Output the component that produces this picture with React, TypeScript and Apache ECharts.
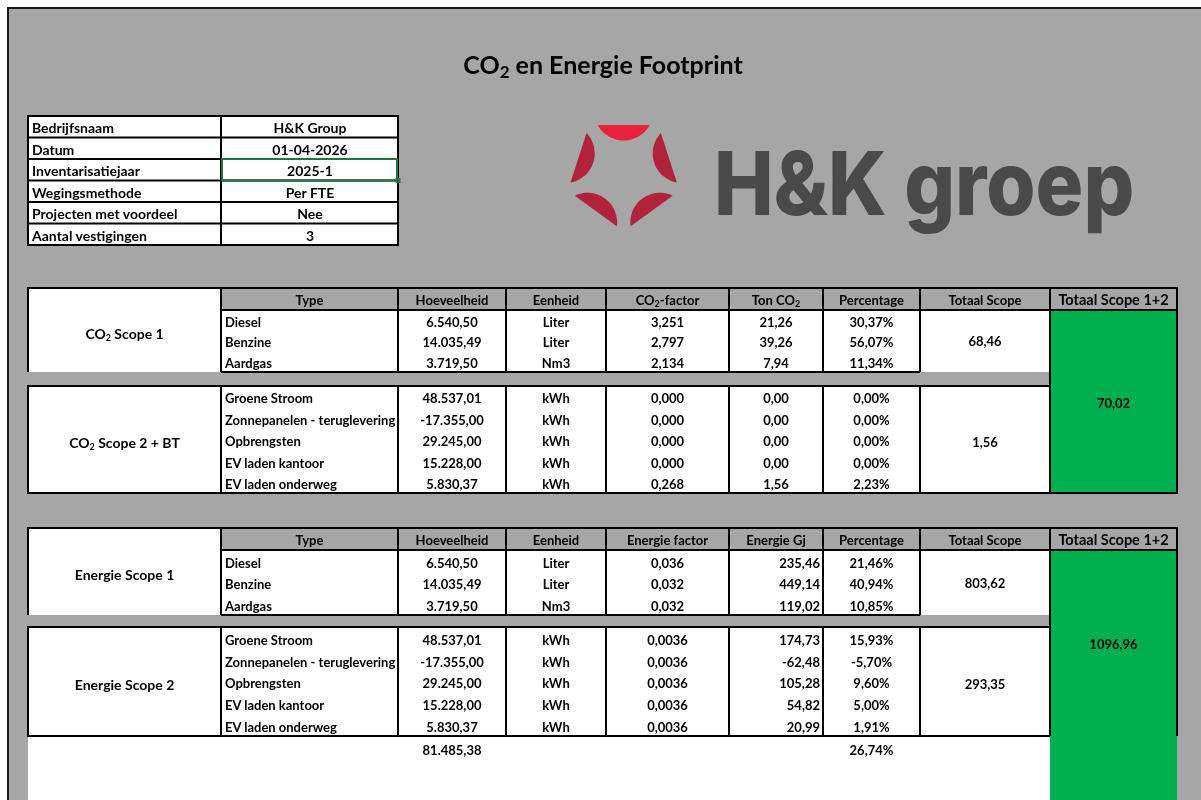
import React, { useEffect, useRef } from "react";
import * as echarts from "echarts";

const FONT = 'Lato, "Noto Sans", sans-serif';

// ---------- data ----------
const titleText = "CO₂ en Energie Footprint";
const logoText = "H&K groep";

const infoLabels = ["Bedrijfsnaam", "Datum", "Inventarisatiejaar", "Wegingsmethode", "Projecten met voordeel", "Aantal vestigingen"];
const infoValues = ["H&K Group", "01-04-2026", "2025-1", "Per FTE", "Nee", "3"];

const co2Headers = ["Type", "Hoeveelheid", "Eenheid", "CO₂-factor", "Ton CO₂", "Percentage", "Totaal Scope", "Totaal Scope 1+2"];
const energyHeaders = ["Type", "Hoeveelheid", "Eenheid", "Energie factor", "Energie Gj", "Percentage", "Totaal Scope", "Totaal Scope 1+2"];

const co2BlockLabels = ["CO₂ Scope 1", "CO₂ Scope 2 + BT"];
const energyBlockLabels = ["Energie Scope 1", "Energie Scope 2"];

const scope1Types = ["Diesel", "Benzine", "Aardgas"];
const scope2Types = ["Groene Stroom", "Zonnepanelen - teruglevering", "Opbrengsten", "EV laden kantoor", "EV laden onderweg"];
const scope1Qty = [6540.5, 14035.49, 3719.5];
const scope2Qty = [48537.01, -17355.0, 29245.0, 15228.0, 5830.37];
const scope1Units = ["Liter", "Liter", "Nm3"];
const scope2Units = ["kWh", "kWh", "kWh", "kWh", "kWh"];

const co2Scope1Factor = [3.251, 2.797, 2.134];
const co2Scope2Factor = [0.0, 0.0, 0.0, 0.0, 0.268];
const co2Scope1Ton = [21.26, 39.26, 7.94];
const co2Scope2Ton = [0.0, 0.0, 0.0, 0.0, 1.56];
const co2Scope1Pct = [30.37, 56.07, 11.34];
const co2Scope2Pct = [0.0, 0.0, 0.0, 0.0, 2.23];
const co2ScopeTotals = [68.46, 1.56];
const co2GrandTotal = 70.02;

const energyScope1Factor = [0.036, 0.032, 0.032];
const energyScope2Factor = [0.0036, 0.0036, 0.0036, 0.0036, 0.0036];
const energyScope1Gj = [235.46, 449.14, 119.02];
const energyScope2Gj = [174.73, -62.48, 105.28, 54.82, 20.99];
const energyScope1Pct = [21.46, 40.94, 10.85];
const energyScope2Pct = [15.93, -5.7, 9.6, 5.0, 1.91];
const energyScopeTotals = [803.62, 293.35];
const energyGrandTotal = 1096.96;

const footerQty = 81485.38;
const footerPct = 26.74;

// ---------- helpers ----------
function nl(v: number, d: number, group = true): string {
  const s = Math.abs(v).toFixed(d);
  let [i, f] = s.split(".");
  if (group) i = i.replace(/\B(?=(\d{3})+(?!\d))/g, ".");
  return (v < 0 ? "-" : "") + i + (f ? "," + f : "");
}
const pct = (v: number) => nl(v, 2) + "%";

function T(x: number, y: number, text: string, o: any = {}): any {
  const size = o.size ?? 13;
  const fill = o.fill ?? "#000";
  const style: any = {
    fontSize: size,
    fontWeight: o.weight ?? "bold",
    fontFamily: o.family ?? FONT,
    fill,
    align: o.align ?? "center",
    verticalAlign: o.v ?? "middle",
  };
  if (text.indexOf("₂") >= 0) {
    const parts = text.split("₂");
    style.text = parts.map((p) => (p ? `{n|${p}}` : "")).join("{s|2}");
    style.rich = {
      n: { fontSize: size, fontWeight: "bold", fontFamily: FONT, fill },
      s: {
        fontSize: Math.round(size * 0.66),
        fontWeight: "bold",
        fontFamily: FONT,
        fill,
        padding: [Math.round(size * 0.55), 0, 0, 0],
      },
    };
  } else {
    style.text = text;
  }
  return { type: "text", x, y, silent: true, style };
}

function L(x1: number, y1: number, x2: number, y2: number, w = 2, stroke = "#000"): any {
  return { type: "line", silent: true, shape: { x1, y1, x2, y2 }, style: { stroke, lineWidth: w } };
}
function R(x: number, y: number, width: number, height: number, fill: string, stroke?: string, lw = 0): any {
  const style: any = { fill };
  if (stroke) {
    style.stroke = stroke;
    style.lineWidth = lw;
  }
  return { type: "rect", silent: true, shape: { x, y, width, height }, style };
}

// ---------- layout ----------
const COLS = [28, 221, 398, 506, 606, 729, 823, 920, 1050, 1177];
const mid = (i: number) => (COLS[i] + COLS[i + 1]) / 2;
const GRAY = "#a6a6a6";
const GREEN = "#00b050";

function rowTextYs(y0: number, y1: number, n: number) {
  const h = (y1 - y0) / n;
  return Array.from({ length: n }, (_, k) => y0 + h * (k + 1) - 9);
}

function buildTable(cfg: any): any[] {
  const { top, hdr, s1, s2, greenBottom, headers, labels, s1Cols, s2Cols, totals, grand, rightAlign, energy } = cfg;
  const fills: any[] = [];
  const lines: any[] = [];
  const texts: any[] = [];
  fills.push(R(COLS[0], top, COLS[1] - COLS[0], s1[1] - top, "#fff"));
  fills.push(R(COLS[1], hdr, COLS[8] - COLS[1], s1[1] - hdr, "#fff"));
  fills.push(R(COLS[0], s2[0], COLS[8] - COLS[0], s2[1] - s2[0], "#fff"));
  fills.push(R(COLS[8], hdr, COLS[9] - COLS[8], greenBottom - hdr, GREEN));
  lines.push(L(COLS[0] - 1, top, COLS[9] + 1, top));
  lines.push(L(COLS[1], hdr, COLS[9] + 1, hdr));
  lines.push(L(COLS[1], s1[1], COLS[7], s1[1]));
  lines.push(L(COLS[0] - 1, s2[0], COLS[8], s2[0]));
  lines.push(L(COLS[0] - 1, s2[1], energy ? COLS[8] : COLS[9] + 1, s2[1]));
  for (let i = 0; i <= 7; i++) {
    lines.push(L(COLS[i], top, COLS[i], s1[1]));
    lines.push(L(COLS[i], s2[0], COLS[i], s2[1]));
  }
  lines.push(L(COLS[8], top, COLS[8], s2[1]));
  lines.push(L(COLS[9], top, COLS[9], s2[1]));
  headers.forEach((h: string, i: number) => {
    texts.push(T(mid(i + 1), (top + hdr) / 2 + 0.5, h, { size: i === 7 ? 14.5 : 13 }));
  });
  texts.push(T(mid(0), (top + s1[1]) / 2 + 3, labels[0], { size: 14 }));
  texts.push(T(mid(0), (s2[0] + s2[1]) / 2 + 3, labels[1], { size: 14 }));
  const blocks = [
    { ys: rowTextYs(s1[0], s1[1], s1Cols[0].length), cols: s1Cols },
    { ys: rowTextYs(s2[0], s2[1], s2Cols[0].length), cols: s2Cols },
  ];
  blocks.forEach((b) => {
    b.ys.forEach((y: number, r: number) => {
      b.cols.forEach((col: string[], c: number) => {
        if (c === 0) texts.push(T(COLS[1] + 4, y, col[r], { align: "left" }));
        else if (c === 4 && rightAlign) texts.push(T(COLS[6] - 3, y, col[r], { align: "right" }));
        else texts.push(T(mid(c + 1), y, col[r]));
      });
    });
  });
  texts.push(T(mid(7), (hdr + s1[1]) / 2, totals[0]));
  texts.push(T(mid(7), (s2[0] + s2[1]) / 2 + 2, totals[1]));
  texts.push(T(mid(8), (hdr + s2[1]) / 2 + 1, grand));
  return [...fills, ...lines, ...texts];
}

function logoSegments(): any[] {
  const cx = 623.7, cy = 172.5, a = 47.5, c = 26, h = 15.5;
  const r = (c * c + h * h) / (2 * h);
  const alpha = Math.asin(c / r);
  const out: any[] = [];
  [-90, -18, 54, 126, 198].forEach((deg, k) => {
    const th = (deg * Math.PI) / 180;
    const nx = Math.cos(th), ny = Math.sin(th);
    const mx = cx + a * nx, my = cy + a * ny;
    const ox = mx + (r - h) * nx, oy = my + (r - h) * ny;
    const pts: number[][] = [];
    const base = th + Math.PI;
    for (let i = 0; i <= 24; i++) {
      const phi = base - alpha + (2 * alpha * i) / 24;
      pts.push([ox + r * Math.cos(phi), oy + r * Math.sin(phi)]);
    }
    out.push({
      type: "polygon",
      silent: true,
      shape: { points: pts },
      style: { fill: k === 0 ? "#e8213f" : "#b0233b" },
    });
  });
  return out;
}

function buildOption(): any {
  const els: any[] = [];
  els.push(R(0, 0, 1201, 800, "#fff"));
  els.push(R(8, 8, 1193, 792, GRAY));
  els.push(L(7, 8, 1201, 8, 2, "#1a1a1a"));
  els.push(L(8, 7, 8, 800, 2, "#1a1a1a"));
  // title
  els.push(T(603, 64, titleText, { size: 25 }));
  // info table
  const iy0 = 116, ih = 21.5;
  els.push(R(28, iy0, 370, ih * infoLabels.length, "#fff"));
  for (let i = 0; i <= infoLabels.length; i++) els.push(L(27, iy0 + i * ih, 399, iy0 + i * ih));
  els.push(L(28, iy0, 28, iy0 + ih * infoLabels.length));
  els.push(L(221, iy0, 221, iy0 + ih * infoLabels.length));
  els.push(L(398, iy0, 398, iy0 + ih * infoLabels.length));
  infoLabels.forEach((lab, i) => {
    const y = iy0 + i * ih + ih / 2 + 1;
    els.push(T(32, y, lab, { align: "left", size: 14 }));
    els.push(T(310, y, infoValues[i], { size: 14 }));
  });
  els.push({ type: "rect", silent: true, shape: { x: 222, y: iy0 + 2 * ih, width: 175, height: ih }, style: { fill: "none", stroke: "#217346", lineWidth: 2 } });
  els.push(R(395.5, iy0 + 3 * ih - 2.5, 5, 5, "#217346"));
  // logo
  els.push(...logoSegments());
  els.push({
    type: "text",
    x: 714,
    y: 183.5,
    scaleX: 0.905,
    silent: true,
    style: { text: logoText, fontSize: 88, fontWeight: 800, fontFamily: "Inter, Lato, sans-serif", fill: "#4a4a4a", align: "left", verticalAlign: "middle" },
  });

  els.push(
    ...buildTable({
      top: 288,
      hdr: 310,
      s1: [310, 372],
      s2: [386, 493],
      greenBottom: 493,
      headers: co2Headers,
      labels: co2BlockLabels,
      s1Cols: [scope1Types, scope1Qty.map((v) => nl(v, 2)), scope1Units, co2Scope1Factor.map((v) => nl(v, 3)), co2Scope1Ton.map((v) => nl(v, 2)), co2Scope1Pct.map(pct)],
      s2Cols: [scope2Types, scope2Qty.map((v) => nl(v, 2)), scope2Units, co2Scope2Factor.map((v) => nl(v, 3)), co2Scope2Ton.map((v) => nl(v, 2)), co2Scope2Pct.map(pct)],
      totals: co2ScopeTotals.map((v) => nl(v, 2, false)),
      grand: nl(co2GrandTotal, 2, false),
      rightAlign: false,
      energy: false,
    })
  );

  els.push(R(28, 736, 1022, 64, "#fff"));
  els.push(
    ...buildTable({
      top: 528,
      hdr: 550,
      s1: [550, 615],
      s2: [627, 736],
      greenBottom: 800,
      headers: energyHeaders,
      labels: energyBlockLabels,
      s1Cols: [scope1Types, scope1Qty.map((v) => nl(v, 2)), scope1Units, energyScope1Factor.map((v) => nl(v, 3)), energyScope1Gj.map((v) => nl(v, 2)), energyScope1Pct.map(pct)],
      s2Cols: [scope2Types, scope2Qty.map((v) => nl(v, 2)), scope2Units, energyScope2Factor.map((v) => nl(v, 4)), energyScope2Gj.map((v) => nl(v, 2)), energyScope2Pct.map(pct)],
      totals: energyScopeTotals.map((v) => nl(v, 2, false)),
      grand: nl(energyGrandTotal, 2, false),
      rightAlign: true,
      energy: true,
    })
  );
  els.push(T(mid(2), 750, nl(footerQty, 2)));
  els.push(T(mid(6), 750, pct(footerPct)));

  return { animation: false, graphic: { elements: els } };
}

export default function App() {
  const ref = useRef<HTMLDivElement>(null);
  useEffect(() => {
    if (!ref.current) return;
    const chart = echarts.init(ref.current, undefined, { renderer: "svg" });
    chart.setOption(buildOption());
    return () => chart.dispose();
  }, []);
  return <div ref={ref} style={{ position: "fixed", left: 0, top: 0, width: 1201, height: 800 }} />;
}
